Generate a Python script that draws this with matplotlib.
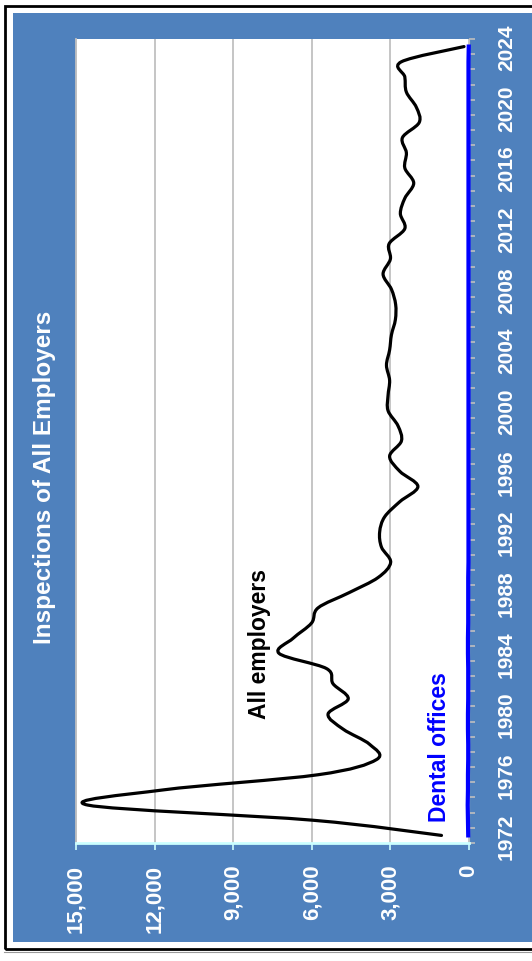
import matplotlib
matplotlib.use("Agg")
import matplotlib.pyplot as plt
from matplotlib.patches import Rectangle, PathPatch
from matplotlib.path import Path
from matplotlib.ticker import FuncFormatter

plt.rcParams['font.family'] = ['Liberation Sans', 'DejaVu Sans']

years = list(range(1972, 2025))
all_employers = [1050, 5950, 14550, 11670, 5760, 3530, 3790, 4800, 5380, 4610,
                 5190, 5440, 7250, 6710, 6010, 5760, 4580, 3470, 2990, 3340,
                 3410, 3220, 2640, 1950, 2640, 3030, 2580, 2710, 3090, 3090,
                 3030, 3150, 3030, 2960, 2810, 2800, 2960, 3280, 3000, 3050,
                 2450, 2620, 2450, 2110, 2450, 2390, 2540, 1900, 2010, 2390,
                 2450, 2580, 190]
dental_offices = [30, 40, 50, 40, 40, 30, 30, 40, 40, 30,
                  30, 30, 40, 40, 30, 30, 30, 30, 20, 20,
                  20, 20, 20, 20, 20, 20, 20, 20, 20, 20,
                  20, 20, 20, 20, 20, 20, 20, 20, 20, 20,
                  20, 20, 20, 20, 20, 20, 20, 20, 20, 20,
                  20, 20, 10]
value_ticks = [0, 3000, 6000, 9000, 12000, 15000]
year_labels = list(range(1972, 2025, 4))

W, H = 532, 962
fig = plt.figure(figsize=(W / 100, H / 100), dpi=100)
fig.patch.set_facecolor('white')

def fx(px):
    return px / W

def fy(py):
    return 1 - py / H

# blue panel + black frame
fig.add_artist(Rectangle((fx(12.7), fy(942.7)), fx(540 - 12.7), (942.7 - 14.3) / H,
                         transform=fig.transFigure, facecolor='#4F81BD',
                         edgecolor='none', zorder=0))
fig.add_artist(Rectangle((fx(5.3), fy(949.5)), fx(560), (949.5 - 7) / H,
                         transform=fig.transFigure, facecolor='none',
                         edgecolor='black', lw=2.0, zorder=1))
fig.add_artist(plt.Line2D([fx(4), fx(532)], [fy(952.5), fy(952.5)],
                          transform=fig.transFigure, color='#9A9A9A', lw=0.8))

ax = fig.add_axes([fx(76), fy(844), (469 - 76) / W, (844 - 40) / H])
ax.set_facecolor('white')
ax.set_xlim(15000, 0)
ax.set_ylim(1971.5, 2024.5)

# value axis (horizontal, reversed)
ax.set_xticks(value_ticks)
ax.xaxis.set_major_formatter(FuncFormatter(lambda v, p: f"{int(v):,}"))
ax.xaxis.grid(True, color='#C0C0C0', lw=1.3)
ax.set_axisbelow(True)
ax.tick_params(axis='x', direction='out', length=5, width=1.2, color='#CCFFFF',
               labelcolor='white', labelsize=16, pad=10)
for lab in ax.get_xticklabels():
    lab.set_rotation(90)
    lab.set_fontweight('bold')

# year axis (vertical, on the right)
ax.yaxis.tick_right()
ax.set_yticks(year_labels)
ax.set_yticks([y - 0.5 for y in years] + [years[-1] + 0.5], minor=True)
ax.tick_params(axis='y', which='major', length=0, labelcolor='white',
               labelsize=15, pad=20)
ax.tick_params(axis='y', which='minor', direction='out', length=4.5,
               width=1.2, color='#BFBFBF')
for lab in ax.get_yticklabels():
    lab.set_rotation(90)
    lab.set_fontweight('bold')
    lab.set_verticalalignment('center')

ax.spines['top'].set_visible(False)
ax.spines['left'].set_color('#C0C0C0')
ax.spines['left'].set_linewidth(1.3)
ax.spines['bottom'].set_color('#CCFFFF')
ax.spines['bottom'].set_linewidth(2)
ax.spines['right'].set_color('#BFBFBF')

# smoothed line through the yearly values
pts = list(zip(all_employers, years))
verts = [pts[0]]
codes = [Path.MOVETO]
n = len(pts)
for i in range(n - 1):
    p0 = pts[max(i - 1, 0)]
    p1 = pts[i]
    p2 = pts[i + 1]
    p3 = pts[min(i + 2, n - 1)]
    c1 = (p1[0] + (p2[0] - p0[0]) / 6, p1[1] + (p2[1] - p0[1]) / 6)
    c2 = (p2[0] - (p3[0] - p1[0]) / 6, p2[1] - (p3[1] - p1[1]) / 6)
    verts += [c1, c2, p2]
    codes += [Path.CURVE4] * 3
ax.add_patch(PathPatch(Path(verts, codes), facecolor='none', edgecolor='black',
                       lw=2.3, capstyle='round', joinstyle='round', zorder=3))

ax.plot(dental_offices, years, color='#0000FF', lw=3, clip_on=False, zorder=4)

ax.text(7980, 1984.67, 'All employers', rotation=90, ha='center', va='center',
        fontsize=16.5, fontweight='bold', color='black')
ax.text(1110, 1977.86, 'Dental offices', rotation=90, ha='center', va='center',
        fontsize=16.5, fontweight='bold', color='#0000FF')

fig.text(fx(45), fy(477.5), 'Inspections of All Employers', rotation=90,
         ha='center', va='center', fontsize=17.5, fontweight='bold', color='white')

fig.savefig('out.png', dpi=100)
